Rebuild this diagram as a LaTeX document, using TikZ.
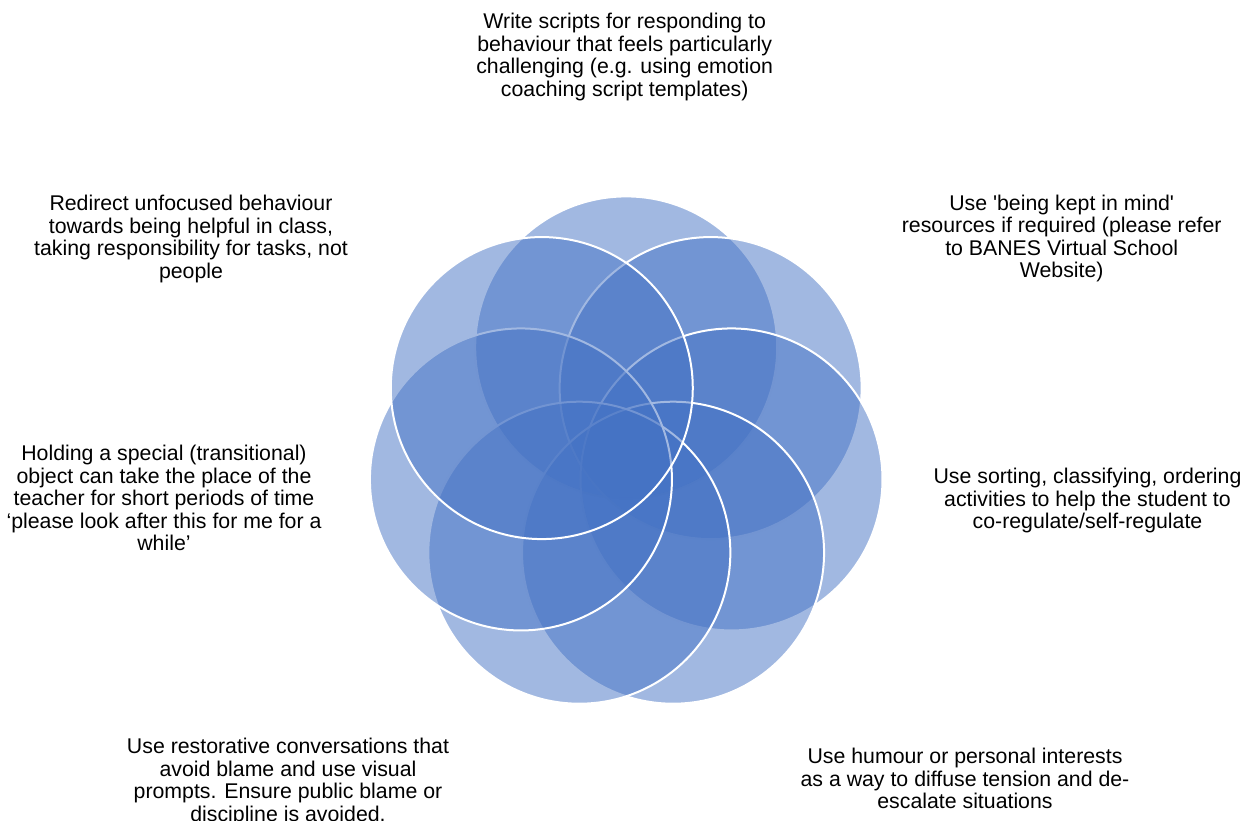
\documentclass[tikz,border=0pt]{standalone}
\usepackage{fontspec}
\setmainfont{Liberation Sans}
\usetikzlibrary{calc}
\definecolor{acc}{HTML}{4472C4}
\tikzset{
  petal/.style={circle, minimum size=302pt, inner sep=0pt, fill=acc, fill opacity=0.5, draw=white, draw opacity=1, line width=2pt},
  lbl/.style={anchor=north, align=center, inner sep=0pt, font=\fontsize{21.3}{22.5}\selectfont, text=black}
}
\newcommand\fl{\rule{0pt}{16pt}}
\begin{document}
\begin{tikzpicture}[x=1pt,y=-1pt]
\useasboundingbox (0,0) rectangle (1253,820);
\coordinate (C) at (626.2,455.4);
\foreach \k in {0,...,6} {
  \node[petal] (p\k) at ($(C)+({-90+\k*360/7}:108)$) {};
}
\node[lbl] (t0) at (624.7,12.5) {\fl Write scripts for responding to\\behaviour that feels particularly\\challenging (e.g. using emotion\\coaching script templates)};
\node[lbl] (t1) at (1061.7,194) {\fl Use \textquotesingle being kept in mind\textquotesingle\\resources if required (please refer\\to BANES Virtual School\\Website)};
\node[lbl] (t2) at (1087.5,467.3) {\fl Use sorting, classifying, ordering\\activities to help the student to\\co-regulate/self-regulate};
\node[lbl] (t3) at (965,747.3) {\fl Use humour or personal interests\\as a way to diffuse tension and de-\\escalate situations};
\node[lbl] (t4) at (288,737.3) {\fl Use restorative conversations that\\avoid blame and use visual\\prompts. Ensure public blame or\\discipline is avoided.};
\node[lbl] (t5) at (164,444.7) {\fl Holding a special (transitional)\\object can take the place of the\\teacher for short periods of time\\‘please look after this for me for a\\while’};
\node[lbl] (t6) at (191,194.7) {\fl Redirect unfocused behaviour\\towards being helpful in class,\\taking responsibility for tasks, not\\people};
\end{tikzpicture}
\end{document}
